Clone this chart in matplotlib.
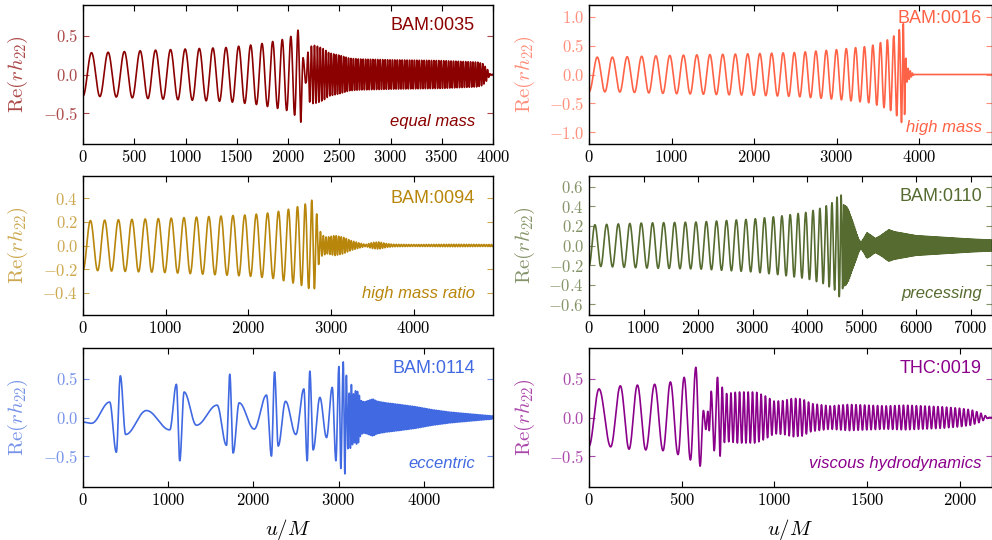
import numpy as np
import matplotlib
matplotlib.use('Agg')
import matplotlib.pyplot as plt
from matplotlib.ticker import MultipleLocator, FuncFormatter
from matplotlib.colors import to_rgb

plt.rcParams['mathtext.fontset'] = 'cm'
plt.rcParams['font.family'] = ['DejaVu Serif']

# ---- values (u/M, Re(r h22)) ----
# BAM:0035, equal mass: envelope knots and instantaneous frequency (cycles per M)
eq_env_t = [0, 300, 600, 1000, 1400, 1700, 1900, 2000, 2060, 2095, 2125, 2150, 2175, 2200,
            2250, 2300, 2350, 2400, 2500, 2600, 2700, 3000, 3500, 3850, 3900, 3940, 3970, 4000]
eq_env_a = [0.28, 0.29, 0.31, 0.33, 0.35, 0.39, 0.44, 0.47, 0.52, 0.57, 0.62, 0.2, 0.1, 0.35,
            0.38, 0.36, 0.33, 0.28, 0.25, 0.21, 0.2, 0.19, 0.18, 0.16, 0.14, 0.08, 0.01, 0.0]
eq_freq_t = [0, 500, 1000, 1500, 1800, 2000, 2080, 2120, 2160, 2250, 2500, 4000]
eq_freq_f = [0.006, 0.0065, 0.0071, 0.0082, 0.0095, 0.012, 0.015, 0.018, 0.022, 0.034, 0.042, 0.042]

# BAM:0016, high mass
hm_env_t = [0, 300, 1000, 2000, 2500, 3000, 3400, 3550, 3650, 3720, 3780, 3815, 3835, 3850,
            3880, 3910, 3940, 4880]
hm_env_a = [0.3, 0.3, 0.33, 0.36, 0.38, 0.43, 0.49, 0.56, 0.62, 0.7, 0.82, 0.9, 0.3, 0.13,
            0.08, 0.03, 0.0, 0.0]
hm_freq_t = [0, 100, 1000, 2000, 3000, 3400, 3600, 3700, 3760, 3800, 3830, 3900]
hm_freq_f = [0.0046, 0.0054, 0.006, 0.0068, 0.0082, 0.0098, 0.0123, 0.0137, 0.0167, 0.024, 0.035, 0.04]

# BAM:0094, high mass ratio
hq_env_t = [0, 500, 1000, 1500, 2000, 2300, 2500, 2650, 2750, 2788, 2815, 2855, 2890, 2950,
            3050, 3150, 3250, 3350, 3420, 3500, 3580, 3680, 3760, 4000, 4500, 4962]
hq_env_a = [0.21, 0.22, 0.23, 0.245, 0.26, 0.28, 0.31, 0.34, 0.37, 0.4, 0.33, 0.15, 0.09, 0.07,
            0.085, 0.07, 0.04, 0.02, 0.008, 0.025, 0.03, 0.015, 0.01, 0.008, 0.01, 0.008]
hq_freq_t = [0, 300, 1000, 1900, 2300, 2550, 2680, 2760, 2800, 2850, 2900, 3000]
hq_freq_f = [0.0055, 0.006, 0.0064, 0.007, 0.0075, 0.0091, 0.0112, 0.0137, 0.016, 0.022, 0.03, 0.033]

# BAM:0110, precessing
pr_env_t = [0, 500, 1000, 2000, 3000, 3500, 4000, 4300, 4500, 4580, 4620, 4660, 4720, 4760,
            4850, 4950, 4990, 5050, 5100, 5180, 5250, 5350, 5500, 5600, 6000, 7000, 7393]
pr_env_a = [0.21, 0.22, 0.23, 0.24, 0.27, 0.3, 0.34, 0.39, 0.45, 0.52, 0.53, 0.42, 0.4, 0.36,
            0.22, 0.06, 0.03, 0.08, 0.13, 0.1, 0.07, 0.1, 0.16, 0.14, 0.1, 0.065, 0.055]
pr_freq_t = [0, 1000, 2000, 3000, 3500, 4000, 4300, 4500, 4600, 4650, 4700, 4800]
pr_freq_f = [0.0046, 0.0048, 0.0052, 0.0058, 0.0064, 0.0073, 0.0085, 0.0105, 0.013, 0.02, 0.04, 0.06]

# BAM:0114, eccentric: extrema before merger, then envelope/frequency of the post-merger
ecc_ext_t = [0, 100, 313, 391, 438, 500, 745, 1018, 1096, 1135, 1186, 1331, 1573, 1683, 1722,
             1761, 1832, 2008, 2153, 2211, 2247, 2290, 2376, 2497, 2591, 2630, 2661, 2700, 2779,
             2857, 2924, 2967, 3002, 3025, 3053, 3072]
ecc_ext_y = [-0.06, -0.075, 0.2, -0.45, 0.54, -0.22, 0.09, -0.16, 0.43, -0.56, 0.33, -0.1, 0.16,
             -0.36, 0.56, -0.46, 0.19, -0.15, 0.29, -0.5, 0.59, -0.37, 0.21, -0.22, 0.37, -0.56,
             0.6, -0.42, 0.26, -0.26, 0.39, -0.56, 0.66, -0.66, 0.72, -0.73]
ecc_env_t = [3072, 3095, 3120, 3145, 3170, 3200, 3230, 3260, 3300, 3350, 3400, 3450, 3550, 3700,
             3900, 4100, 4300, 4500, 4700, 4810]
ecc_env_a = [0.73, 0.5, 0.3, 0.45, 0.3, 0.35, 0.33, 0.22, 0.2, 0.22, 0.24, 0.21, 0.19, 0.17,
             0.14, 0.1, 0.07, 0.05, 0.03, 0.02]
ecc_freq_t = [3072, 3150, 3300]
ecc_freq_f = [0.025, 0.04, 0.05]

# THC:0019, viscous hydrodynamics
thc_ext_t = [0, 54, 117, 169, 216, 261, 306, 354, 399, 439, 480, 513, 547, 576, 599, 617, 630,
             641, 648, 659, 675, 693, 707]
thc_ext_y = [-0.37, 0.37, -0.38, 0.41, -0.41, 0.42, -0.42, 0.43, -0.43, 0.46, -0.48, 0.52, -0.55,
             0.65, -0.63, 0.09, -0.155, 0.08, -0.17, 0.34, -0.43, 0.52, -0.5]
thc_env_t = [707, 725, 740, 800, 900, 950, 1000, 1050, 1100, 1150, 1200, 1300, 1400, 1500, 1600,
             1700, 1800, 1900, 2000, 2060, 2110, 2140, 2160, 2173]
thc_env_a = [0.5, 0.33, 0.31, 0.33, 0.33, 0.28, 0.21, 0.22, 0.25, 0.24, 0.18, 0.15, 0.17, 0.16,
             0.15, 0.16, 0.15, 0.14, 0.12, 0.1, 0.06, 0.02, 0.0, 0.0]
thc_freq_t = [707, 2173]
thc_freq_f = [0.043, 0.043]


def chirp(t0, t1, env_t, env_a, freq_t, freq_f, phase0=np.pi, n=40000):
    t = np.linspace(t0, t1, n)
    f = np.interp(t, freq_t, freq_f)
    cyc = np.concatenate([[0.0], np.cumsum(0.5 * (f[1:] + f[:-1]) * np.diff(t))])
    return t, np.interp(t, env_t, env_a) * np.cos(phase0 + 2 * np.pi * cyc)


def through_extrema(ext_t, ext_y, n=6000):
    te, ye = np.asarray(ext_t, float), np.asarray(ext_y, float)
    t = np.linspace(te[0], te[-1], n)
    i = np.clip(np.searchsorted(te, t, side='right') - 1, 0, len(te) - 2)
    s = (t - te[i]) / (te[i + 1] - te[i])
    return t, ye[i] + (ye[i + 1] - ye[i]) * (1 - np.cos(np.pi * s)) / 2


curves = {}
curves['eq'] = chirp(0, 4000, eq_env_t, eq_env_a, eq_freq_t, eq_freq_f)
curves['hm'] = chirp(0, 4880, hm_env_t, hm_env_a, hm_freq_t, hm_freq_f)
curves['hq'] = chirp(0, 4962, hq_env_t, hq_env_a, hq_freq_t, hq_freq_f)
curves['pr'] = chirp(0, 7393, pr_env_t, pr_env_a, pr_freq_t, pr_freq_f, n=60000)
t1, y1 = through_extrema(ecc_ext_t, ecc_ext_y)
t2, y2 = chirp(3072, 4810, ecc_env_t, ecc_env_a, ecc_freq_t, ecc_freq_f)
curves['ecc'] = (np.concatenate([t1, t2]), np.concatenate([y1, y2]))
t1, y1 = through_extrema(thc_ext_t, thc_ext_y)
t2, y2 = chirp(707, 2173, thc_env_t, thc_env_a, thc_freq_t, thc_freq_f)
curves['thc'] = (np.concatenate([t1, t2]), np.concatenate([y1, y2]))

# ---- layout ----
fig = plt.figure(figsize=(9.92, 5.40), dpi=100)
H = 139 / 540
rows = [1 - 144 / 540, 1 - 315 / 540, 1 - 487 / 540]
cols = [(83 / 992, 410 / 992), (589 / 992, 403 / 992)]

panels = [
    # key, col, row, color, name, desc, xmax, ylim, xstep, ystep, name_y, desc_y
    ('eq', 0, 0, '#8B0000', 'BAM:0035', 'equal mass', 4000, 0.9, 500, 0.5, 0.856, 0.16),
    ('hm', 1, 0, '#FF6347', 'BAM:0016', 'high mass', 4880, 1.2, 1000, 0.5, 0.906, 0.12),
    ('hq', 0, 1, '#B8860B', 'BAM:0094', 'high mass ratio', 4962, 0.59, 1000, 0.2, 0.835, 0.156),
    ('pr', 1, 1, '#556B2F', 'BAM:0110', 'precessing', 7393, 0.71, 1000, 0.2, 0.851, 0.156),
    ('ecc', 0, 2, '#4169E1', 'BAM:0114', 'eccentric', 4810, 0.9, 1000, 0.5, 0.854, 0.17),
    ('thc', 1, 2, '#8B008B', 'THC:0019', 'viscous hydrodynamics', 2173, 0.9, 500, 0.5, 0.854, 0.17),
]

for key, c, r, color, name, desc, xmax, ylim, xstep, ystep, ny, dy in panels:
    x0, w = cols[c]
    ax = fig.add_axes([x0, rows[r], w, H])
    t, y = curves[key]
    ax.plot(t, y, color=color, lw=1.2)
    light = tuple(0.72 * v + 0.28 for v in to_rgb(color))

    ax.set_xlim(0, xmax)
    ax.set_ylim(-ylim, ylim)
    ax.xaxis.set_major_locator(MultipleLocator(xstep))
    ax.yaxis.set_major_locator(MultipleLocator(ystep))
    ax.xaxis.set_major_formatter(FuncFormatter(lambda v, p: f'${v:.0f}$'))
    ax.yaxis.set_major_formatter(FuncFormatter(lambda v, p: f'${round(v, 6) + 0.0:.1f}$'))
    ax.tick_params(axis='both', direction='in', top=True, right=True, length=4,
                   width=0.8, labelsize=12)
    ax.tick_params(axis='y', colors=light)
    for sp in ax.spines.values():
        sp.set_linewidth(1.0)

    ax.set_ylabel(r'$\mathrm{Re}(rh_{22})$', color=light, fontsize=15)
    ax.yaxis.set_label_coords(-0.13 if c == 0 else -0.129, 0.5)
    if r == 2:
        ax.set_xlabel(r'$u/M$', fontsize=15)
        ax.xaxis.set_label_coords(0.5, -0.215)

    xr = 0.956 if c == 0 else 0.975
    ax.text(xr, ny, name, transform=ax.transAxes, ha='right', va='center',
            color=color, fontsize=13, family='Liberation Sans')
    ax.text(xr, dy, desc, transform=ax.transAxes, ha='right', va='center',
            color=color, fontsize=12, family='Liberation Sans', style='italic')

fig.savefig('out.png', dpi=100)
